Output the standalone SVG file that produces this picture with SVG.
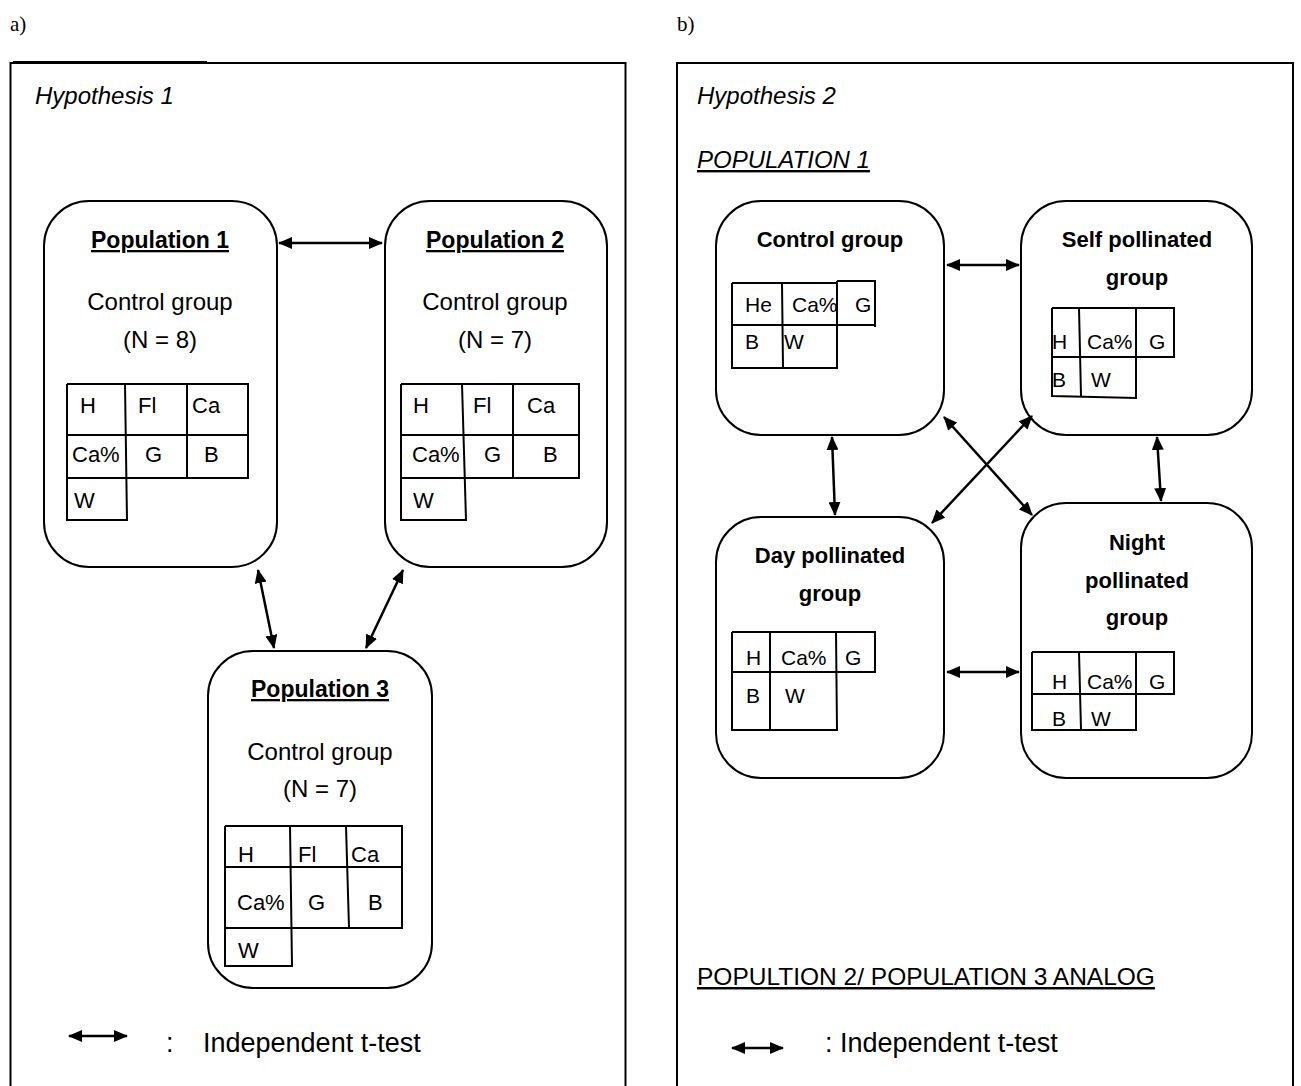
<svg xmlns="http://www.w3.org/2000/svg" width="1301" height="1086" viewBox="0 0 1301 1086">
<style>
text{font-family:"Liberation Sans",Arial,sans-serif;fill:#000}
.lbl{font-family:"Liberation Serif","Times New Roman",serif;font-size:21px}
.hyp{font-size:24px;font-style:italic}
.frame{fill:none;stroke:#000;stroke-width:2}
.node{fill:#fff;stroke:#000;stroke-width:2}
.grid{fill:none;stroke:#000;stroke-width:2}
.head{font-size:23px;font-weight:bold;text-decoration:underline;text-anchor:middle}
.bhead{font-size:22px;font-weight:bold;text-anchor:middle}
.body{font-size:24px;text-anchor:middle}
.cell{font-size:22px}
.cell2{font-size:21px}
.leg{font-size:27px}
.conn{fill:none;stroke:#000;stroke-width:2.5;marker-start:url(#ah);marker-end:url(#ah)}
</style>
<defs>
<marker id="ah" viewBox="0 0 14 12" refX="13" refY="6" markerWidth="14" markerHeight="12" markerUnits="userSpaceOnUse" orient="auto-start-reverse">
<path d="M0,0 L14,6 L0,12 z" fill="#000"/>
</marker>
</defs>
<rect width="1301" height="1086" fill="#fff"/>

<g id="panel-a">
<text class="lbl" x="10" y="31">a)</text>
<rect class="frame" x="10.5" y="63" width="615" height="1100"/>
<line x1="13" y1="62" x2="207" y2="62" stroke="#000" stroke-width="2"/>
<text class="hyp" x="35" y="104">Hypothesis 1</text>
</g>

<g id="panel-b">
<text class="lbl" x="677" y="31">b)</text>
<rect class="frame" x="677" y="63" width="616" height="1100"/>
<text class="hyp" x="697" y="104">Hypothesis 2</text>
<text class="hyp" x="697" y="168" text-decoration="underline">POPULATION 1</text>
<text x="697" y="985" font-size="24.5px" text-decoration="underline">POPULTION 2/ POPULATION 3 ANALOG</text>
</g>

<g id="pop1">
<rect class="node" x="44" y="201" width="233" height="366" rx="45"/>
<text class="head" x="160" y="248">Population 1</text>
<text class="body" x="160" y="310">Control group</text>
<text class="body" x="160" y="348">(N = 8)</text>
<path class="grid" d="M67,384 H248 V478 H67 M67,435 H248 M67,384 V520 H127 L125,384 M187,384 V478"/>
<text class="cell" x="80" y="413">H</text><text class="cell" x="138" y="413">Fl</text><text class="cell" x="192" y="413">Ca</text>
<text class="cell" x="72" y="462">Ca%</text><text class="cell" x="145" y="462">G</text><text class="cell" x="204" y="462">B</text>
<text class="cell" x="74" y="508">W</text>
</g>

<g id="pop2">
<rect class="node" x="385" y="201" width="222" height="366" rx="45"/>
<text class="head" x="495" y="248">Population 2</text>
<text class="body" x="495" y="310">Control group</text>
<text class="body" x="495" y="348">(N = 7)</text>
<path class="grid" d="M401,384 H579 V478 H401 M401,435 H579 M401,384 V520 H466 L462,384 M513,384 V478"/>
<text class="cell" x="413" y="413">H</text><text class="cell" x="473" y="413">Fl</text><text class="cell" x="527" y="413">Ca</text>
<text class="cell" x="412" y="462">Ca%</text><text class="cell" x="484" y="462">G</text><text class="cell" x="543" y="462">B</text>
<text class="cell" x="413" y="508">W</text>
</g>

<g id="pop3">
<rect class="node" x="208" y="651" width="224" height="337" rx="45"/>
<text class="head" x="320" y="697">Population 3</text>
<text class="body" x="320" y="760">Control group</text>
<text class="body" x="320" y="797">(N = 7)</text>
<path class="grid" d="M225,826 H402 V928 H225 M225,867 H402 M225,826 V966 H292 L290,826 M346,826 L349,928"/>
<text class="cell" x="238" y="862">H</text><text class="cell" x="298" y="862">Fl</text><text class="cell" x="351" y="862">Ca</text>
<text class="cell" x="237" y="910">Ca%</text><text class="cell" x="308" y="910">G</text><text class="cell" x="368" y="910">B</text>
<text class="cell" x="238" y="958">W</text>
</g>

<g id="control">
<rect class="node" x="716" y="201" width="228" height="234" rx="45"/>
<text class="bhead" x="830" y="247">Control group</text>
<path class="grid" d="M732,283 H837 M837,281 H875 V327 M732,325 H875 M732,283 V368 H837 V281 M782,283 L783,368"/>
<text class="cell2" x="745" y="312">He</text><text class="cell2" x="792" y="312">Ca%</text><text class="cell2" x="855" y="312">G</text>
<text class="cell2" x="745" y="349">B</text><text class="cell2" x="784" y="349">W</text>
</g>

<g id="self">
<rect class="node" x="1021" y="201" width="231" height="234" rx="45"/>
<text class="bhead" x="1137" y="247">Self pollinated</text>
<text class="bhead" x="1137" y="285">group</text>
<path class="grid" d="M1052,308 H1174 V357 H1052 M1052,308 V396 L1136,398 V308 M1079,308 L1081,396"/>
<text class="cell2" x="1052" y="349">H</text><text class="cell2" x="1087" y="349">Ca%</text><text class="cell2" x="1149" y="349">G</text>
<text class="cell2" x="1052" y="387">B</text><text class="cell2" x="1091" y="387">W</text>
</g>

<g id="day">
<rect class="node" x="716" y="517" width="228" height="261" rx="45"/>
<text class="bhead" x="830" y="563">Day pollinated</text>
<text class="bhead" x="830" y="601">group</text>
<path class="grid" d="M732,632 H875 V672 H732 M732,632 V730 H837 L836,632 M770,632 V730"/>
<text class="cell2" x="746" y="665">H</text><text class="cell2" x="781" y="665">Ca%</text><text class="cell2" x="845" y="665">G</text>
<text class="cell2" x="746" y="703">B</text><text class="cell2" x="785" y="703">W</text>
</g>

<g id="night">
<rect class="node" x="1021" y="503" width="231" height="275" rx="45"/>
<text class="bhead" x="1137" y="550">Night</text>
<text class="bhead" x="1137" y="588">pollinated</text>
<text class="bhead" x="1137" y="625">group</text>
<path class="grid" d="M1032,652 H1174 V694 H1032 M1032,652 V730 H1136 V652 M1079,652 L1081,730"/>
<text class="cell2" x="1052" y="689">H</text><text class="cell2" x="1087" y="689">Ca%</text><text class="cell2" x="1149" y="689">G</text>
<text class="cell2" x="1052" y="726">B</text><text class="cell2" x="1091" y="726">W</text>
</g>

<g id="connectors">
<line class="conn" x1="279" y1="243" x2="382" y2="243"/>
<line class="conn" x1="258" y1="570" x2="274" y2="648"/>
<line class="conn" x1="403" y1="570" x2="366" y2="648"/>
<line class="conn" x1="947" y1="265" x2="1019" y2="265"/>
<line class="conn" x1="832" y1="437" x2="835" y2="515"/>
<line class="conn" x1="1157" y1="437" x2="1161" y2="501"/>
<line class="conn" x1="947" y1="672" x2="1019" y2="672"/>
<line class="conn" x1="944" y1="417" x2="1032" y2="515"/>
<line class="conn" x1="1032" y1="416" x2="932" y2="523"/>
</g>

<g id="legend-a">
<line class="conn" x1="69" y1="1036" x2="127" y2="1036"/>
<text class="leg" x="166" y="1052">:</text>
<text class="leg" x="203" y="1052">Independent t-test</text>
</g>
<g id="legend-b">
<line class="conn" x1="732" y1="1048" x2="783" y2="1048"/>
<text class="leg" x="825" y="1052">: Independent t-test</text>
</g>
</svg>
